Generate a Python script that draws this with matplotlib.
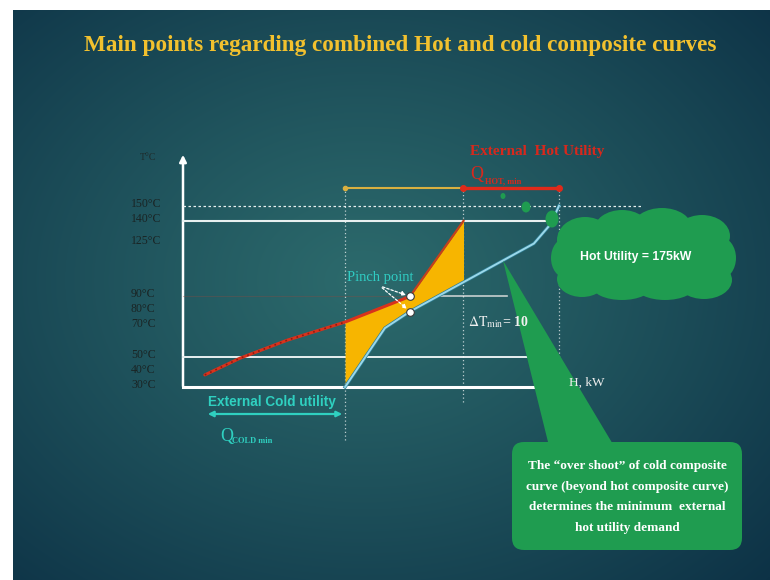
import numpy as np
import matplotlib.pyplot as plt
from matplotlib.patches import Ellipse, FancyBboxPatch, Polygon
from matplotlib import font_manager

# Composite curves: enthalpy H (kW) against temperature T (degC)
hot_H = [40, 104, 191, 297, 416, 514]
hot_T = [38, 49, 61, 73, 90, 140]
cold_H = [297, 370, 416, 643, 674, 689]
cold_T = [30, 69, 80, 125, 138, 150]

temp_ticks = [30, 40, 50, 70, 80, 90, 125, 140, 150]
tick_labels = [f"{t}°C" for t in temp_ticks]

hot_utility = cold_H[-1] - hot_H[-1]        # 175 kW
dt_min = 90 - 80                            # hot pinch minus cold pinch

callout_lines = [
    "The \u201cover shoot\u201d of cold composite",
    "curve (beyond hot composite curve)",
    "determines the minimum  external",
    "hot utility demand",
]

# slide geometry: pixel scale of the drawing
W, H_FIG = 770, 580
X0, Y0 = 183, 387            # origin of the T-H sketch (H=0, T=30)
K = 175 / 95.5               # kW per pixel
S = 1.51                     # pixel per degC


def px(x, y):
    """Slide pixel -> (H, T) data coordinates."""
    return (x - X0) * K, 30 + (Y0 - y) / S


names = {f.name for f in font_manager.fontManager.ttflist}
SERIF = "Liberation Serif"
SANS = "Liberation Sans Narrow" if "Liberation Sans Narrow" in names else "Liberation Sans"
plt.rcParams["mathtext.fontset"] = "stix"

fig = plt.figure(figsize=(W / 100, H_FIG / 100), dpi=100, facecolor="white")
ax = fig.add_axes([0, 0, 1, 1])
ax.set_xlim(px(0, 0)[0], px(W, 0)[0])
ax.set_ylim(px(0, H_FIG)[1], px(0, 0)[1])
ax.axis("off")

# radial teal background of the slide
yy, xx = np.mgrid[0:570, 0:757]
r = np.sqrt(((xx - 350) / 560) ** 2 + ((yy - 270) / 430) ** 2)
r = np.clip(r, 0, 1) ** 1.1
inner = np.array([44, 106, 108]) / 255
outer = np.array([13, 50, 70]) / 255
bg = inner * (1 - r[..., None]) + outer * r[..., None]
l, t = px(13, 10)
rr, b = px(770, 580)
ax.imshow(bg, extent=(l, rr, b, t), origin="upper", aspect="auto", zorder=0)

ax.text(*px(400, 45), "Main points regarding combined Hot and cold composite curves",
        color="#f2c12e", fontsize=16.7, fontweight="bold", family=SERIF,
        ha="center", va="center")

# temperature axis with arrow
ax.annotate("", xy=px(X0, 152), xytext=px(X0, 389),
            arrowprops=dict(arrowstyle="-|>", color="white", lw=1.8, mutation_scale=10),
            zorder=2)
ax.text(*px(140, 158), "T°C", color="#1e2b2b", fontsize=7, family=SERIF, va="center")
for tv, lab in zip(temp_ticks, tick_labels):
    ax.text(px(131, 0)[0], tv + 1.5, lab, color="#1a2424", fontsize=8.5,
            family=SERIF, va="center", ha="left")

# temperature reference lines
ax.plot([0, px(563, 0)[0]], [30, 30], color="white", lw=2.2, zorder=2)
ax.plot([0, px(548, 0)[0]], [140, 140], color="#e8f0f0", lw=1.5, zorder=2)
ax.plot([0, px(643, 0)[0]], [150, 150], color="#e8f0f0", lw=0.9, ls=(0, (2, 2)), zorder=2)
ax.plot([0, px(545, 0)[0]], [50, 50], color="#e8f0f0", lw=1.4, zorder=2)
ax.plot([0, px(436, 0)[0]], [90, 90], color="#8a4a40", lw=0.8, alpha=0.35, zorder=2)
ax.plot([px(436, 0)[0], px(507, 0)[0]], [90, 90], color="#c8d0d0", lw=1.2, zorder=2)

# dotted guides at the ends of the curves
bar_T = px(0, 188)[1]
for h, lo in [(hot_H[3], px(0, 440)[1]), (hot_H[-1], px(0, 402)[1]), (cold_H[-1], 30)]:
    ax.plot([h, h], [lo, bar_T], color="white", lw=0.9, ls=(0, (1, 2)), alpha=0.7, zorder=2)

# overlap region between the composites
fill_H = np.array(sorted(set([h for h in hot_H + cold_H if hot_H[3] <= h <= hot_H[-1]])))
ax.fill_between(fill_H, np.interp(fill_H, cold_H, cold_T), np.interp(fill_H, hot_H, hot_T),
                color="#f7b500", lw=0, zorder=3)

ax.plot(hot_H[:5], hot_T[:5], color="#d8321c", lw=2.2, zorder=4, solid_capstyle="round")
ax.plot(hot_H[4:], hot_T[4:], color="#c4401c", lw=1.6, zorder=4)
ax.plot(hot_H[:4], hot_T[:4], color="#8e1a10", lw=1.2, ls=(0, (1, 2.5)), zorder=4)
ax.plot(cold_H, cold_T, color="#2f7f95", lw=2.4, zorder=4)
ax.plot(cold_H, cold_T, color="#9bd8ea", lw=1.4, zorder=4)

# pinch points
ax.plot([416, 416], [90, 80], "o", ms=5.5, mfc="white", mec="#3a3a3a", mew=0.8, zorder=5)
ax.text(*px(380, 277), "Pinch point", color="#30cdc4", fontsize=10.5, family=SERIF,
        ha="center", va="center", zorder=7)
for target in [(416, 90), (416, 80)]:
    ax.annotate("", xy=target, xytext=px(380, 286),
                arrowprops=dict(arrowstyle="-|>", color="white", lw=0.9, ls=(0, (2, 1.5)),
                                mutation_scale=6, shrinkB=3), zorder=6)

ax.text(*px(468, 322), r"$\Delta\mathrm{T}_{\mathrm{min}}$" + f"= {dt_min}", color="#f0f0f0",
        fontsize=10, family=SERIF, fontweight="bold", ha="left", va="center", zorder=7)
ax.text(*px(569, 383), "H, kW", color="#f0f0f0", fontsize=9.5, family=SERIF,
        ha="left", va="center", zorder=8)

# enthalpy span bars above the curves
ax.plot([hot_H[3], hot_H[-1]], [bar_T, bar_T], color="#d9b040", lw=1.5, marker="o", ms=3,
        zorder=4)
ax.plot([hot_H[-1], cold_H[-1]], [bar_T, bar_T], color="#e02a1a", lw=2.4, marker="o", ms=4,
        zorder=4)
ax.text(*px(470, 151), "External  Hot Utility", color="#d8281c", fontsize=11,
        fontweight="bold", family=SERIF, ha="left", va="center")
ax.text(*px(470, 174), "Q", color="#d8281c", fontsize=13, family=SERIF, ha="left", va="center")
ax.text(*px(485, 181), "HOT, min", color="#d8281c", fontsize=6, fontweight="bold",
        family=SERIF, ha="left", va="center")

# cold utility span
ax.annotate("", xy=px(345, 414), xytext=px(205, 414),
            arrowprops=dict(arrowstyle="<|-|>", color="#2fd0c0", lw=1.6, mutation_scale=8))
ax.text(*px(208, 402), "External Cold utility", color="#2fd0c0", fontsize=9.8,
        fontweight="bold", family=SANS, ha="left", va="center")
ax.text(*px(220, 436), "Q", color="#2fd0c0", fontsize=13, family=SERIF, ha="left", va="center")
ax.text(*px(232, 441), "COLD min", color="#2fd0c0", fontsize=6, fontweight="bold",
        family=SERIF, ha="left", va="center")

GREEN = "#1f9c50"

# thought cloud with the hot utility value
cloud = [(644, 259, 170, 62), (585, 240, 56, 46), (622, 230, 56, 40), (662, 228, 60, 40),
         (702, 236, 56, 42), (720, 258, 32, 42), (704, 280, 56, 38), (665, 286, 60, 28),
         (622, 286, 60, 28), (582, 279, 50, 36), (566, 258, 30, 40)]
for cx, cy, w, h in cloud:
    ax.add_patch(Ellipse(px(cx, cy), w * K, h / S, color=GREEN, lw=0, zorder=6))
for cx, cy, w, h in [(503, 196, 5, 6), (526, 207, 9, 11), (552, 219, 13, 17)]:
    ax.add_patch(Ellipse(px(cx, cy), w * K, h / S, color=GREEN, lw=0, zorder=6))
ax.text(*px(636, 257), f"Hot Utility = {hot_utility}kW", color="white", fontsize=8.8,
        fontweight="bold", family=SANS, ha="center", va="center", zorder=7)

# speech bubble pointing at the cold curve overshoot
tip_H = px(503, 0)[0]
tip = (tip_H, np.interp(tip_H, cold_H, cold_T))
ax.add_patch(Polygon([tip, px(549, 446), px(614, 446)], closed=True, color=GREEN, lw=0,
                     zorder=6))
bx, by = px(512, 550)
ax.add_patch(FancyBboxPatch((bx, by), (742 - 512) * K, (550 - 442) / S,
                            boxstyle=f"round,pad=0,rounding_size={12 * K}",
                            mutation_aspect=(1 / S) / K, color=GREEN, lw=0, zorder=6))
ax.text(*px(627, 497), "\n".join(callout_lines), color="white", fontsize=9.5,
        fontweight="bold", family=SERIF, ha="center", va="center", linespacing=1.95,
        zorder=7)

fig.savefig("out.png", dpi=100, facecolor=fig.get_facecolor())
